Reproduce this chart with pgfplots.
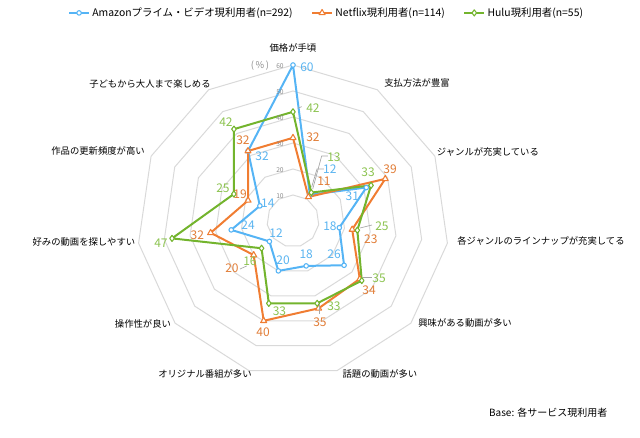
\documentclass[border=0pt]{standalone}
\usepackage{fontspec}
\setmainfont{Noto Sans CJK JP}
\usepackage{pgfplots}
\usepackage{pgfplotstable}
\pgfplotsset{compat=1.18}
\usepgfplotslibrary{polar}

\definecolor{amz}{RGB}{85,180,245}
\definecolor{nfx}{RGB}{240,125,50}
\definecolor{hulu}{RGB}{115,180,45}
\definecolor{amzt}{RGB}{90,180,240}
\definecolor{nfxt}{RGB}{225,125,55}
\definecolor{hulut}{RGB}{140,195,80}
\definecolor{gridc}{RGB}{217,217,217}
\definecolor{tickc}{RGB}{140,140,140}
\definecolor{leadc}{RGB}{166,166,166}

% categories: angle (deg, polar, clockwise from top), label offset from the 60 ring (pt)
\pgfplotstableread{
a r name dx dy
90 60 価格が手頃 0 12.75
417.27 60 支払方法が豊富 29.8 5.1
384.55 60 ジャンルが充実している 39.8 3.2
351.82 60 各ジャンルのラインナップが充実してる 70.2 1.7
319.09 60 興味がある動画が多い 40.6 -0.1
286.36 60 話題の動画が多い 32.3 -2.5
253.64 60 オリジナル番組が多い -33.1 -2.5
220.91 60 操作性が良い -24.1 -0.6
188.18 60 好みの動画を探しやすい -41 0.9
155.45 60 作品の更新頻度が高い -39.8 3.9
122.73 60 子どもから大人まで楽しめる -44 4.4
}\tblcat

% angle, value (%), label offset dx dy (pt)
\pgfplotstableread{
a r dx dy
90 60 10.5 -1.5
417.27 12 15 19.5
384.55 31 -10.5 -6.4
351.82 18 -7 1.3
319.09 26 -7.5 8.3
286.36 18 0 9
253.64 20 3.5 8.2
220.91 12 5 6.3
188.18 24 12.6 3.7
155.45 14 6 2.2
122.73 32 10.5 -3.8
}\tblamz

\pgfplotstableread{
a r dx dy
90 32 15 0.6
417.27 11 11.6 12
384.55 39 3.6 7.4
351.82 23 14 -7
319.09 34 7 -8.3
286.36 35 1 -10.3
253.64 40 -0.5 -8.5
220.91 20 -16.3 -9.7
188.18 32 -10 -1.5
155.45 19 -6 4.9
122.73 32 -3.8 8.3
}\tblnfx

\pgfplotstableread{
a r dx dy
90 42 15 2.8
417.27 13 17 26.7
384.55 33 -2.2 10
351.82 25 18.5 3.2
319.09 35 13 2
286.36 33 12.6 -2
253.64 33 8 -6
220.91 16 -8.7 -9.6
188.18 47 -8.3 -3.8
155.45 25 -8.2 4.5
122.73 42 -6 5.3
}\tblhulu

\pgfplotsset{
  shifted/.style={draw=none, forget plot, nodes near coords,
    visualization depends on={\thisrow{dx}\as\dx},
    visualization depends on={\thisrow{dy}\as\dy},
    every node near coord/.append style={anchor=center,
      xshift=\dx pt, yshift=\dy pt, inner sep=0pt}},
  vlabels/.style={shifted, point meta=explicit,
    every node near coord/.append style={text=#1, font=\fontsize{9}{10}\selectfont}},
}

\begin{document}
\begin{tikzpicture}
\useasboundingbox (-219.75pt,-162pt) rectangle (260.25pt,165.75pt);
\begin{polaraxis}[
  at={(0pt,0pt)}, anchor=center,
  scale only axis, width=234pt, height=234pt,
  xmin=90, xmax=450, ymin=0, ymax=60,
  axis line style={draw=none},
  major tick length=0pt,
  xtick=\empty, ytick=\empty,
  clip=false,
  /pgf/number format/assume math mode=true,
  legend style={at={(axis cs:80.7,81.1)}, anchor=center, draw=none, fill=none,
    legend columns=3, font=\fontsize{7.8}{9}\selectfont,
    /tikz/every even column/.append style={column sep=12pt}},
  legend image code/.code={\draw[mark repeat=2, mark phase=2, #1, line width=1pt]
    plot coordinates {(0pt,0pt) (7.5pt,0pt) (15pt,0pt)};},
]
% polygon grid
\pgfplotsinvokeforeach{10,20,30,40,50,60}{
  \addplot[gridc, line width=0.75pt, forget plot] coordinates {
    (90,#1) (417.27,#1) (384.55,#1) (351.82,#1) (319.09,#1) (286.36,#1)
    (253.64,#1) (220.91,#1) (188.18,#1) (155.45,#1) (122.73,#1)} -- cycle;
}
% radial scale labels
\addplot[draw=none, forget plot, nodes near coords, point meta=explicit,
  every node near coord/.append style={text=tickc, anchor=center, inner sep=0pt,
    xshift=-9.75pt, yshift=-1pt, font=\fontsize{5}{6}\selectfont}]
  coordinates {(90,10) [10] (90,20) [20] (90,30) [30] (90,40) [40] (90,50) [50] (90,60) [60]};
% category names
\addplot[shifted, point meta=explicit symbolic,
  every node near coord/.append style={text=black, font=\fontsize{7}{8}\selectfont}]
  table[x=a, y=r, meta=name] {\tblcat};

\addplot[amz, line width=1.5pt, line join=round, mark=*, mark size=1.7pt,
  mark options={fill=white, line width=0.8pt}] table[x=a, y=r] {\tblamz} -- cycle;
\addlegendentry{Amazonプライム・ビデオ現利用者(n=292)}
\addplot[nfx, line width=1.5pt, line join=round, mark=triangle*, mark size=2.6pt,
  mark options={fill=white, line width=0.8pt}] table[x=a, y=r] {\tblnfx} -- cycle;
\addlegendentry{Netflix現利用者(n=114)}
\addplot[hulu, line width=1.5pt, line join=round, mark=diamond*, mark size=2.3pt,
  mark options={fill=white, line width=0.8pt}] table[x=a, y=r] {\tblhulu} -- cycle;
\addlegendentry{Hulu現利用者(n=55)}

\addplot[vlabels=amzt] table[x=a, y=r, meta=r] {\tblamz};
\addplot[vlabels=nfxt] table[x=a, y=r, meta=r] {\tblnfx};
\addplot[vlabels=hulut] table[x=a, y=r, meta=r] {\tblhulu};
\end{polaraxis}

% leader lines
\begin{scope}[leadc, line width=0.5pt]
\draw (14.8pt,24pt) -- (21.5pt,48.75pt) -- (26.25pt,48.75pt);
\draw (14pt,25.5pt) -- (18pt,39pt) -- (23.25pt,39pt);
\draw (3.5pt,84.5pt) -- (6.5pt,85.75pt);
\draw (50.25pt,-5.25pt) -- (59.25pt,-3pt);
\draw (52.5pt,-42pt) -- (59.25pt,-42pt);
\draw (19.5pt,-62.25pt) -- (19.5pt,-69.75pt);
\draw (-39.75pt,-36pt) -- (-34.75pt,-33.75pt);
\end{scope}

\node[text=tickc, font=\fontsize{7}{8}\selectfont] at (-24.75pt,116.5pt) {(\,\%\,)};
\node[anchor=east, font=\fontsize{7.5}{9}\selectfont] at (239.25pt,-143.5pt) {Base: 各サービス現利用者};
\end{tikzpicture}
\end{document}
